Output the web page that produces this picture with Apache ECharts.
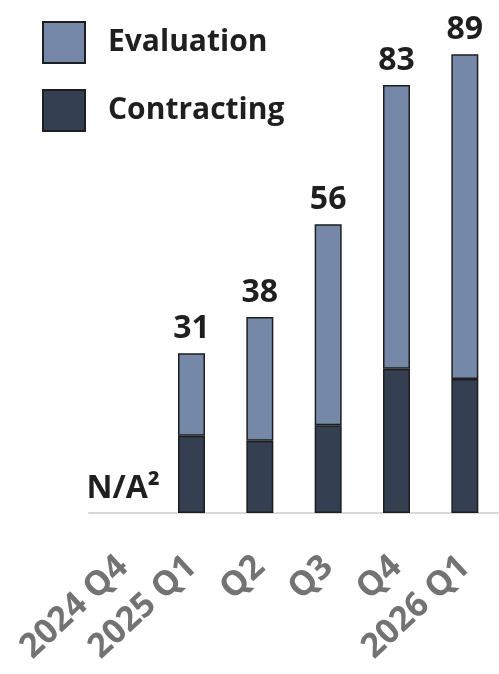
<!DOCTYPE html>
<html>
<head>
<meta charset="utf-8">
<script src="https://cdn.jsdelivr.net/npm/echarts@6/dist/echarts.min.js"></script>
<style>
  html, body { margin: 0; padding: 0; background: #fff; }
  #chart { width: 499px; height: 674px; }
</style>
</head>
<body>
<div id="chart"></div>
<script>
// Quarterly pipeline: contracting vs. evaluation stage counts
const quarters    = ['2024 Q4', '2025 Q1', 'Q2', 'Q3', 'Q4', '2026 Q1'];
const contracting = [null, 15, 14, 17, 28, 26];
const evaluation  = [null, 16, 24, 39, 55, 63];
const totals      = [0, 31, 38, 56, 83, 89];   // 0 = not available
const naLabel     = 'N/A²';

const FONT = '"Open Sans", sans-serif';
const EDGE = '#1e1e1e';
const INK  = '#1f1f1f';

const chart = echarts.init(document.getElementById('chart'), null, { renderer: 'canvas' });

chart.setOption({
  animation: false,
  backgroundColor: '#ffffff',
  legend: {
    orient: 'vertical',
    left: 42,
    top: 21,
    padding: 0,
    icon: 'rect',
    itemWidth: 42,
    itemHeight: 41,
    itemGap: 25,
    data: ['Evaluation', 'Contracting'],
    textStyle: {
      fontFamily: FONT,
      fontWeight: 'bold',
      fontSize: 30,
      color: INK,
      padding: [0, 0, 0, 18]
    }
  },
  grid: { left: 89, right: -4, top: 49, bottom: 161 },
  xAxis: {
    type: 'category',
    data: quarters,
    axisLine: { show: true, lineStyle: { color: '#d9d9d9', width: 2 } },
    axisTick: { show: false },
    axisLabel: {
      interval: 0,
      rotate: 43,
      margin: 49,
      fontFamily: FONT,
      fontWeight: 'bold',
      fontSize: 34,
      color: '#737373'
    }
  },
  yAxis: { type: 'value', min: 0, max: 90, show: false },
  series: [
    {
      name: 'Contracting',
      type: 'bar',
      stack: 'pipeline',
      barWidth: 27,
      data: contracting,
      itemStyle: { color: '#343f52', borderColor: EDGE, borderWidth: 1.5 }
    },
    {
      name: 'Evaluation',
      type: 'bar',
      stack: 'pipeline',
      barWidth: 27,
      data: evaluation,
      itemStyle: { color: '#7688a8', borderColor: EDGE, borderWidth: 1.5 }
    },
    {
      // invisible totals carrying the value labels
      name: 'Total',
      type: 'bar',
      barWidth: 27,
      barGap: '-100%',
      data: totals,
      itemStyle: { color: 'rgba(0,0,0,0)', borderWidth: 0 },
      label: {
        show: true,
        position: 'top',
        distance: 8,
        fontFamily: FONT,
        fontWeight: 'bold',
        fontSize: 32,
        color: INK,
        formatter: p => (p.value > 0 ? String(p.value) : naLabel)
      },
      z: 5
    }
  ]
});
</script>
</body>
</html>
